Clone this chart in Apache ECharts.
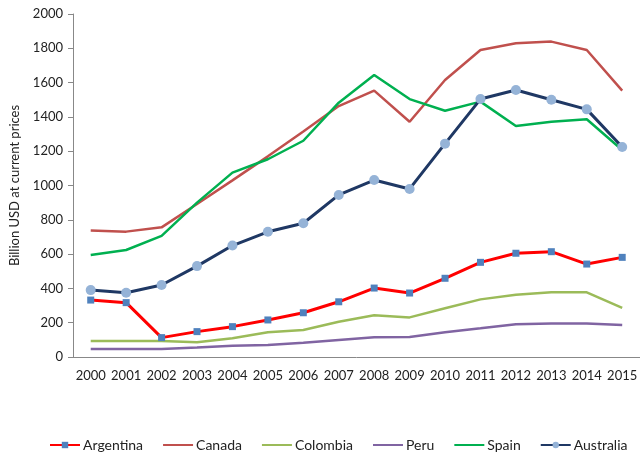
<!DOCTYPE html>
<html>
<head>
<meta charset="utf-8">
<script src="https://cdn.jsdelivr.net/npm/echarts@6/dist/echarts.min.js"></script>
<style>
    html, body { margin: 0; padding: 0; background: #fff; }
    #chart { width: 640px; height: 454px; }
</style>
</head>
<body>
<div id="chart"></div>
<script>
    // data
    const years = ["2000", "2001", "2002", "2003", "2004", "2005", "2006", "2007",
        "2008", "2009", "2010", "2011", "2012", "2013", "2014", "2015"];
    const argentina = [332, 317, 113, 148, 177, 216, 258, 322, 402, 373, 459, 552, 605, 614, 542, 581];
    const canada = [737, 731, 756, 892, 1030, 1170, 1315, 1463, 1553, 1372, 1615, 1790, 1829, 1839, 1790, 1553];
    const colombia = [93, 93, 93, 86, 109, 144, 157, 206, 243, 231, 284, 336, 363, 377, 377, 287];
    const peru = [47, 47, 47, 55, 66, 70, 83, 99, 115, 117, 144, 167, 191, 196, 196, 187];
    const spain = [595, 624, 706, 900, 1075, 1153, 1261, 1483, 1644, 1504, 1436, 1489, 1347, 1372, 1386, 1207];
    const australia = [390, 375, 420, 530, 650, 730, 780, 945, 1032, 980, 1244, 1504, 1557, 1500, 1444, 1224];

    let myChart = echarts.init(document.getElementById("chart"));

    // plain line without markers
    function plain(name, data, color) {
        return {
            name: name,
            type: "line",
            data: data,
            symbol: "none",
            lineStyle: { color: color, width: 2.5 },
            itemStyle: { color: color }
        };
    }

    let option = {
        animation: false,
        textStyle: { fontFamily: "Lato" },
        grid: {
            left: 73,
            right: -9,
            top: 14,
            bottom: 97
        },
        legend: {
            top: 433,
            left: 44,
            itemWidth: 30,
            itemHeight: 8,
            itemGap: 19,
            textStyle: { color: "#222", fontSize: 14, fontFamily: "Lato", padding: [0, 0, 0, -2] },
            data: [
                { name: "Argentina" },
                { name: "Canada", itemStyle: { opacity: 0 } },
                { name: "Colombia", itemStyle: { opacity: 0 } },
                { name: "Peru", itemStyle: { opacity: 0 } },
                { name: "Spain", itemStyle: { opacity: 0 } },
                { name: "Australia" }
            ]
        },
        xAxis: {
            type: "category",
            data: years,
            boundaryGap: true,
            axisLine: { lineStyle: { color: "#888" } },
            axisTick: { lineStyle: { color: "#888" }, length: 5 },
            axisLabel: { color: "#222", fontSize: 13, margin: 12, interval: 0 }
        },
        yAxis: {
            type: "value",
            min: 0,
            max: 2000,
            interval: 200,
            name: "Billion USD at current prices",
            nameLocation: "middle",
            nameGap: 52,
            nameTextStyle: { color: "#222", fontSize: 13 },
            axisLine: { show: true, lineStyle: { color: "#888" } },
            axisTick: { show: true, lineStyle: { color: "#888" }, length: 5 },
            axisLabel: {
                color: "#222",
                fontSize: 13,
                margin: 10,
                formatter: function (v) { return String(v); }
            },
            splitLine: { show: false }
        },
        series: [
            {
                name: "Argentina",
                type: "line",
                data: argentina,
                symbol: "rect",
                symbolSize: 7,
                lineStyle: { color: "#ff0000", width: 3 },
                itemStyle: { color: "#4f81bd" }
            },
            plain("Canada", canada, "#c0504d"),
            plain("Colombia", colombia, "#9bbb59"),
            plain("Peru", peru, "#8064a2"),
            plain("Spain", spain, "#00b050"),
            {
                name: "Australia",
                type: "line",
                data: australia,
                symbol: "circle",
                symbolSize: 10,
                lineStyle: { color: "#1f3864", width: 3 },
                itemStyle: { color: "#95b3d7" }
            }
        ]
    };
    myChart.setOption(option);
    window.addEventListener("resize", function () {
        myChart.resize();
    });
</script>
</body>
</html>
